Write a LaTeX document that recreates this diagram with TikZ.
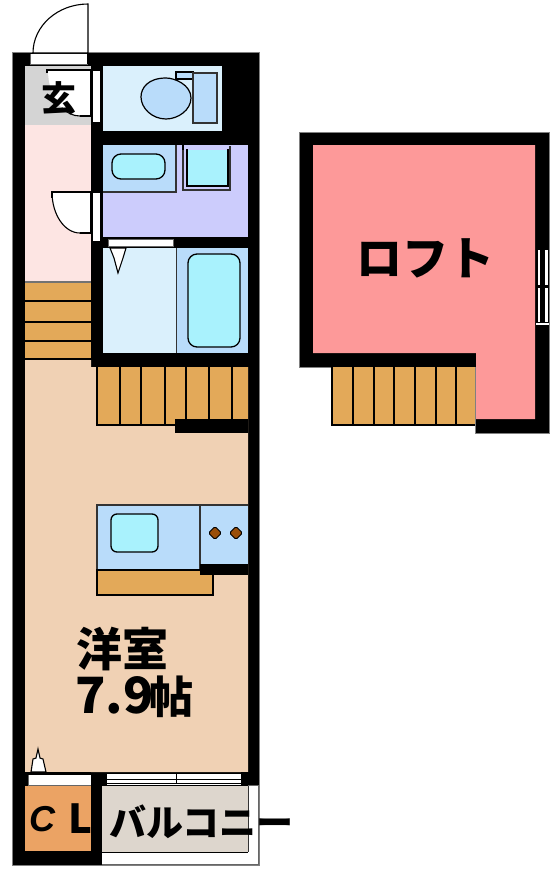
\documentclass[tikz,border=0pt]{standalone}
\usepackage{fontspec}
\newfontfamily\cjk{Noto Sans CJK JP}
\newfontfamily\latb{Liberation Sans}
\definecolor{entry}{HTML}{D4D4D4}
\definecolor{hall}{HTML}{FDE5E3}
\definecolor{wc}{HTML}{DAF0FC}
\definecolor{blu}{HTML}{B9DCFA}
\definecolor{cya}{HTML}{A9F2FD}
\definecolor{wash}{HTML}{CCCCFC}
\definecolor{stair}{HTML}{E3A959}
\definecolor{room}{HTML}{F0D1B4}
\definecolor{clo}{HTML}{EBA364}
\definecolor{balc}{HTML}{DDD6CD}
\definecolor{loft}{HTML}{FD9999}
\definecolor{burner}{HTML}{9A4F0A}
\tikzset{
  wall/.style={fill=black,draw=none},
  thin line/.style={draw=black,line width=1.1pt},
  part/.style={draw=black!80,line width=1.1pt},
  fixture/.style={draw=black,line width=1.3pt,fill=cya},
  lbl/.style={inner sep=0pt,text=black},
}
\begin{document}
\begin{tikzpicture}[x=1pt,y=-1pt]
\useasboundingbox (0,0) rectangle (550,871);
% ---- main plan outer walls
\fill[wall,draw=black!50,line width=.6pt] (12,52) rectangle (259,865);
% room areas
\fill[entry] (25,66) rectangle (91,125);
\fill[hall] (25,125) rectangle (91,281);
\fill[wc] (103,66) rectangle (222,131);
\fill[wash] (103,145) rectangle (248,237);
\fill[wc] (103,248) rectangle (176,353);
\fill[blu] (177,248) rectangle (248,353);
\fill[room] (25,360) -- (91,360) -- (91,367) -- (248,367) -- (248,772) -- (25,772) -- cycle;
% ---- stairs in hall
\fill[stair] (25,283) rectangle (91,359);
\foreach \yy in {301,322,341,359} \draw[thin line] (25,\yy) -- (91,\yy);
\draw[thin line,black!55] (25,282) -- (91,282);
% ---- stairs in room
\fill[stair] (97,367) rectangle (248,425);
\draw[thin line] (97,367) -- (97,425) -- (175,425);
\foreach \xx in {120,141,165,186,209,232} \draw[thin line] (\xx,367) -- (\xx,425);
\fill[wall] (175,419) rectangle (248,433);
% ---- entrance door
\fill[white] (30,54) rectangle (88,64);
\draw[black!60,line width=.7pt] (30,54) -- (30,64) -- (88,64);
\draw[thin line,fill=white] (33,53) arc[start angle=180,end angle=270,x radius=55,y radius=49] -- (88,53) -- cycle;
\draw[thin line] (88,53) -- (88,64);
% ---- toilet door
\fill[white] (93,71) rectangle (100,122);
\fill[white] (48,70) -- (91,70) -- (91,116) -- (80,116) arc[start angle=90,end angle=180,x radius=32,y radius=46] -- cycle;
\draw[thin line] (47,73) -- (47,70) -- (100,70);
\draw[thin line] (91,70) -- (91,116) -- (80,116);
\draw[thin line] (80,116) arc[start angle=90,end angle=125,x radius=32,y radius=46];
% ---- toilet
\fill[blu,draw=black,line width=1.1pt] (176,72) rectangle (193,79);
\draw[fixture,fill=blu,line width=1.2pt] (191,98) .. controls (191,85) and (175,78) .. (166,78) .. controls (148,78) and (141,88) .. (141,97) .. controls (141,108) and (152,119) .. (166,119) .. controls (178,119) and (191,110) .. (191,98) -- cycle;
\draw[part,fill=blu] (193,73) rectangle (217,123);
% ---- washroom
\fill[blu] (103,145) rectangle (176,192);
\draw[part] (176,145) -- (176,192) -- (103,192);
\draw[fixture,rounded corners=9pt] (112,154) rectangle (165,179);
\draw[part,fill=wash] (183,146) -- (183,190) -- (230,190) -- (230,146);
\fill[cya] (188,150) rectangle (227,185);
\draw[black,line width=1.4pt] (187,149) -- (187,186) -- (228,186) -- (228,149);
\fill[wall] (182,145) rectangle (184,150);
% ---- washroom door
\fill[wall] (91,192) rectangle (103,248);
\fill[white] (93,193) rectangle (100,241);
\fill[white] (52,192) -- (91,192) -- (91,233) -- (80,233) arc[start angle=90,end angle=180,x radius=28,y radius=41] -- cycle;
\draw[thin line] (52,198) -- (52,192) -- (101,192);
\draw[thin line] (91,192) -- (91,233) -- (80,233);
\draw[thin line] (80,233) arc[start angle=90,end angle=180,x radius=28,y radius=41];
% ---- bath
\fill[wall] (103,237) rectangle (248,248);
\fill[white] (108,239) rectangle (173,246);
\draw[black!60,line width=.7pt] (108,239) rectangle (173,246);
\draw[part] (176.5,248) -- (176.5,353);
\draw[fixture,rounded corners=9pt] (188,254) rectangle (240,347);
\draw[thin line,fill=white] (110,248) -- (126,248) -- (123,258) -- (118,273) -- (114,258) -- cycle;
% ---- kitchen
\fill[blu] (97,505) rectangle (248,569);
\draw[part] (97,569) -- (97,505) -- (248,505);
\draw[part] (200,505) -- (200,569);
\draw[fixture,rounded corners=6pt] (111,514) rectangle (158,552);
\foreach \xx in {215,236} {
  \draw[black,line width=.9pt,fill=burner,rounded corners=1.5pt] (\xx,526.5) -- (\xx+6.5,533) -- (\xx,539.5) -- (\xx-6.5,533) -- cycle;
}
\fill[stair] (97,570) rectangle (213,595);
\draw[thin line] (97,569) -- (97,595) -- (213,595) -- (213,570);
\draw[thin line] (97,570) -- (213,570);
\fill[wall] (200,564) rectangle (248,575);
% ---- bottom
\fill[clo] (25,786) rectangle (91,851);
\fill[white] (28,775) rectangle (91,785);
\draw[black!60,line width=.7pt] (28,775) -- (28,785) -- (91,785);
\draw[thin line,fill=white] (31,772) -- (33,759) -- (36,758) -- (38,749) -- (40,758) -- (43,759) -- (46,772) -- cycle;
\draw[thin line] (25,772.5) -- (91,772.5);
% window
\fill[white] (107,773) rectangle (241,785);
\foreach \yy in {773.5,779.5,783.5} \draw[thin line,line width=.9pt] (107,\yy) -- (241,\yy);
\draw[thin line,line width=.9pt] (176,773) -- (176,783);
\fill[wall] (241,772) rectangle (259,785);
% balcony
\fill[white] (102,786) rectangle (259,865);
\fill[balc] (102,786) rectangle (248,852);
\draw[thin line] (102,852.5) -- (248,852.5);
\draw[part,line width=.9pt] (248.5,786) -- (248.5,852);
\draw[black!60,line width=.9pt] (248,785.5) -- (258.5,785.5) -- (258.5,864.5) -- (102,864.5);
% ---- labels main
\node[lbl,font=\cjk\bfseries\fontsize{35}{35}\selectfont] (gen) at (59,98) {玄};
\node[lbl,font=\cjk\bfseries\fontsize{46}{46}\selectfont] (yo) at (122,649) {洋室};
\node[lbl,font=\cjk\bfseries\fontsize{50}{50}\selectfont,anchor=west] (size) at (75,697) {7.9\kern-4pt{\fontsize{44}{44}\selectfont 帖}};
\node[lbl,font=\latb\bfseries\itshape\fontsize{36}{36}\selectfont] (c) at (42,819) {C};
\node[lbl,font=\cjk\bfseries\fontsize{40}{40}\selectfont] (l) at (80,819) {L};
\node[lbl,font=\cjk\bfseries\fontsize{37}{37}\selectfont,anchor=west] (bal) at (109,822) {バルコニー};
% ---- loft
\fill[wall,draw=black!50,line width=.6pt] (299,132) -- (549,132) -- (549,433) -- (475,433) -- (475,367) -- (299,367) -- cycle;
\fill[loft] (313,145) -- (535,145) -- (535,419) -- (476,419) -- (476,353) -- (313,353) -- cycle;
\foreach \xx in {537.5,545} {
  \fill[white] (\xx,250) rectangle (\xx+2.5,285);
  \fill[white] (\xx,288) rectangle (\xx+2.5,322);
}
\fill[white] (536,323) rectangle (549,325);
\fill[stair] (332,367) rectangle (475,425);
\draw[thin line] (332,367) -- (332,425) -- (475,425);
\foreach \xx in {353,374,394,415,436,456} \draw[thin line] (\xx,367) -- (\xx,425);
\node[lbl,font=\cjk\bfseries\fontsize{46}{46}\selectfont] (lo) at (425,258) {ロフト};
\end{tikzpicture}
\end{document}
